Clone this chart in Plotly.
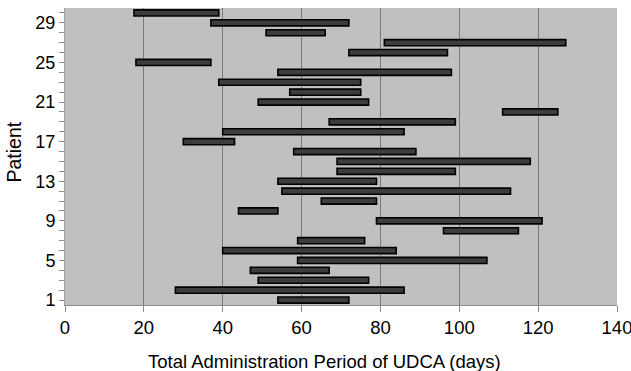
import plotly.graph_objects as go

# UDCA administration window per patient (start day, end day)
patients = list(range(1, 31))
start_day = [54, 28, 49, 47, 59, 40, 59, 96, 79, 44,
             65, 55, 54, 69, 69, 58, 30, 40, 67, 111,
             49, 57, 39, 54, 18, 72, 81, 51, 37, 17.5]
end_day = [72, 86, 77, 67, 107, 84, 76, 115, 121, 54,
           79, 113, 79, 99, 118, 89, 43, 86, 99, 125,
           77, 75, 75, 98, 37, 97, 127, 66, 72, 39]
x_ticks = [0, 20, 40, 60, 80, 100, 120, 140]
y_labels = [1, 5, 9, 13, 17, 21, 25, 29]

durations = [e - s for s, e in zip(start_day, end_day)]

fig = go.Figure()
fig.add_trace(go.Bar(
    y=patients,
    x=durations,
    base=start_day,
    orientation="h",
    width=0.62,
    marker=dict(color="#3d3d3d", line=dict(color="#000000", width=1.6)),
    showlegend=False,
))

font_family = "Liberation Sans, Arial, sans-serif"

fig.update_layout(
    width=631,
    height=371,
    margin=dict(l=65, r=14, t=8, b=66),
    paper_bgcolor="white",
    plot_bgcolor="#c0c0c0",
    font=dict(family=font_family, color="#000000"),
    xaxis=dict(
        range=[0, 140],
        tickvals=x_ticks,
        ticktext=[str(v) for v in x_ticks],
        tickfont=dict(size=18.5),
        ticklabeloverflow="allow",
        automargin=False,
        ticks="outside",
        ticklen=6,
        tickcolor="#8c8c8c",
        showgrid=True,
        gridcolor="#7a7a7a",
        gridwidth=1,
        showline=True,
        linecolor="#8c8c8c",
        linewidth=1,
        zeroline=False,
    ),
    yaxis=dict(
        range=[0.5, 30.5],
        tickvals=patients,
        ticktext=[str(p) if p in y_labels else "" for p in patients],
        tickfont=dict(size=18),
        automargin=False,
        ticks="outside",
        ticklen=5,
        tickcolor="#8c8c8c",
        showgrid=False,
        showline=True,
        linecolor="#a0a0a0",
        linewidth=1,
        zeroline=False,
    ),
    annotations=[
        dict(text="Total Administration Period of UDCA (days)",
             xref="paper", yref="paper", x=0.471, y=-0.1886,
             xanchor="center", yanchor="middle", showarrow=False,
             font=dict(size=18.5)),
        dict(text="Patient", textangle=-90,
             xref="paper", yref="paper", x=-0.0915, y=0.515,
             xanchor="center", yanchor="middle", showarrow=False,
             font=dict(size=19.5)),
    ],
)

fig.write_html("out.html")
